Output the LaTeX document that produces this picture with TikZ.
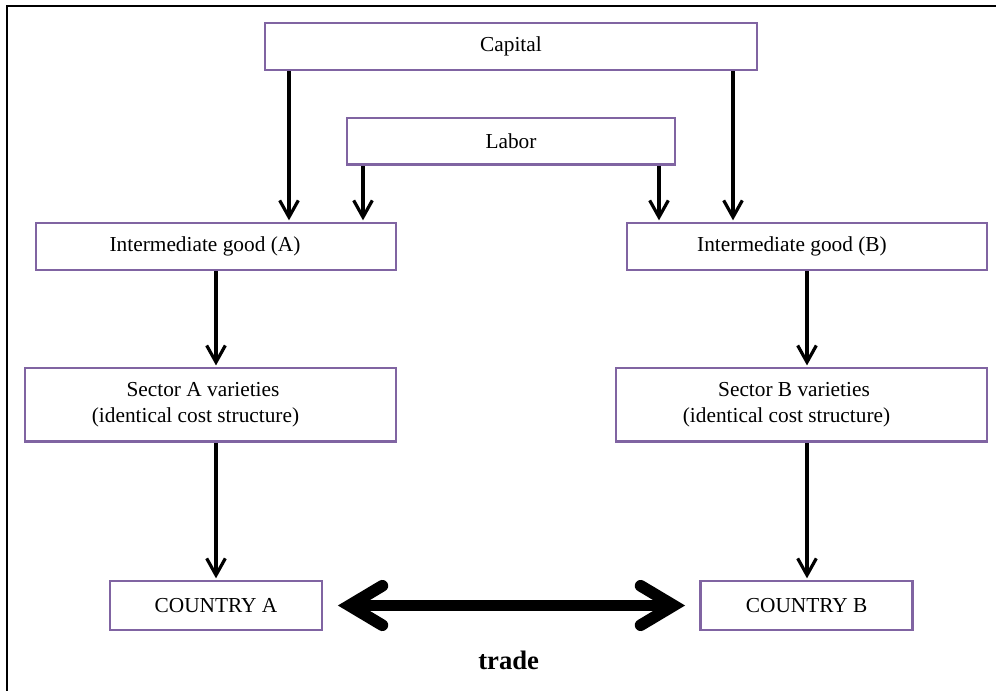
\documentclass[tikz,border=0pt]{standalone}
\usepackage{fontspec}
\setmainfont{Liberation Serif}
\usetikzlibrary{arrows.meta,calc}
\definecolor{boxpurple}{RGB}{128,100,162}
\begin{document}
\begin{tikzpicture}[x=0.75pt,y=-0.75pt,
  box/.style={draw=boxpurple,line width=2pt,fill=white,inner sep=0pt,
    font=\fontsize{16pt}{19.5pt}\selectfont,align=center},
  arr/.style={draw=black,line width=2.4pt,-{Straight Barb[length=12.5pt,width=14pt]}},
  bigline/.style={line width=8.8pt}]
\useasboundingbox (0,0) rectangle (996,691);
\fill[white] (0,0) rectangle (996,691);
\draw[line width=1.6pt] (7,700) -- (7,6) -- (1005,6);

\node[box,minimum width=369pt,minimum height=35.25pt] (cap) at (511,46.5) {\raisebox{-1.5pt}{Capital}};
\node[box,minimum width=246pt,minimum height=34.9pt] (lab) at (511,141.2) {\raisebox{-1.5pt}{Labor}};
\node[box,minimum width=270pt,minimum height=35.25pt] (intA) at (216,246.5) {\raisebox{-1pt}{Intermediate good (A)}\rule{16.5pt}{0pt}};
\node[box,minimum width=270pt,minimum height=35.25pt] (intB) at (807,246.5) {\raisebox{-1pt}{Intermediate good (B)}\rule{22.5pt}{0pt}};
\node[box,minimum width=278.25pt,minimum height=55.1pt] (secA) at (210.5,404.8) {Sector A varieties\rule{11.25pt}{0pt}\\(identical cost structure)\rule{22.5pt}{0pt}};
\node[box,minimum width=278.25pt,minimum height=55.1pt] (secB) at (801.5,404.8) {Sector B varieties\rule{11.25pt}{0pt}\\(identical cost structure)\rule{22.5pt}{0pt}};
\node[box,minimum width=159pt,minimum height=36.75pt] (cA) at (216,605.5) {COUNTRY A};
\node[box,minimum width=159pt,minimum height=36.75pt] (cB) at (806.7,605.5) {COUNTRY B};

\coordinate (x1) at (289,0);
\coordinate (x2) at (363,0);
\coordinate (x3) at (659,0);
\coordinate (x4) at (733,0);
\coordinate (xa) at (216,0);
\coordinate (xb) at (807,0);

\draw[arr] (cap.south -| x1) -- ([yshift=1pt]intA.north -| x1);
\draw[arr] (lab.south -| x2) -- ([yshift=1pt]intA.north -| x2);
\draw[arr] (lab.south -| x3) -- ([yshift=1pt]intB.north -| x3);
\draw[arr] (cap.south -| x4) -- ([yshift=1pt]intB.north -| x4);
\draw[arr] (intA.south -| xa) -- ([yshift=1pt]secA.north -| xa);
\draw[arr] (secA.south -| xa) -- ([yshift=1pt]cA.north -| xa);
\draw[arr] (intB.south -| xb) -- ([yshift=1pt]secB.north -| xb);
\draw[arr] (secB.south -| xb) -- ([yshift=1pt]cB.north -| xb);

% trade arrow
\coordinate (tl) at ([xshift=19.5pt]cA.east);
\coordinate (tr) at ([xshift=-19.3pt]cB.west);
\draw[bigline] (tl) -- (tr);
\draw[bigline,line cap=round,line join=miter] ($(tl)+(33,-19.7)$) -- (tl) -- ($(tl)+(33,19.7)$);
\draw[bigline,line cap=round,line join=miter] ($(tr)+(-33,-19.7)$) -- (tr) -- ($(tr)+(-33,19.7)$);
\node[font=\fontsize{20pt}{24pt}\selectfont\bfseries] (trade) at (508.7,660) {trade};
\end{tikzpicture}
\end{document}
